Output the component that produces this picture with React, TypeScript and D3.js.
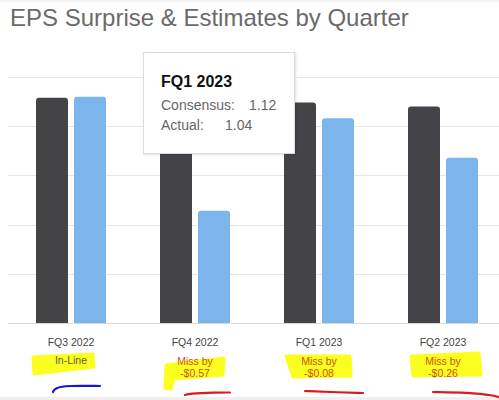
import React, { useRef, useEffect } from "react";
import * as d3 from "d3";

const quarters = ["FQ3 2022", "FQ4 2022", "FQ1 2023", "FQ2 2023"];
const consensus = [1.145, 1.14, 1.12, 1.1];
const actual = [1.15, 0.57, 1.04, 0.84];
const surpriseLines = [["In-Line"], ["Miss by", "-$0.57"], ["Miss by", "-$0.08"], ["Miss by", "-$0.26"]];
const surpriseKind = ["inline", "miss", "miss", "miss"];
const yTicks = [0, 0.25, 0.5, 0.75, 1, 1.25];
const series = ["Consensus", "Actual"];
const tooltipIndex = 2;

const W = 499;
const H = 400;
const FONT = "'Liberation Sans', Arial, Helvetica, sans-serif";

// hand-drawn highlighter blobs, relative to the category center
const highlightShapes: [number, number][][] = [
  [[-38, 357], [22, 354], [23, 367], [-37, 374]],
  [[-29, 365], [29, 358], [28, 375], [-21, 379], [-24, 389], [-30, 388]],
  [[-33, 356], [31, 356], [32, 376], [-26, 377]],
  [[-32, 356], [36, 353], [38, 375], [-30, 376]],
];
const scribbles: [number, number][][] = [
  [[-18, 392], [-16, 388], [-4, 385.5], [29, 386]],
  [[-10, 395], [-6, 393.5], [20, 392.5], [35, 392.5]],
  [[-14, 391], [10, 392], [44, 393]],
  [[-10, 392], [25, 392.5], [50, 395], [62, 399]],
];

function topRounded(x: number, y: number, w: number, h: number, r: number) {
  return `M${x},${y + h}V${y + r}Q${x},${y} ${x + r},${y}H${x + w - r}Q${x + w},${y} ${x + w},${y + r}V${y + h}Z`;
}

export default function App() {
  const svgRef = useRef<SVGSVGElement | null>(null);

  useEffect(() => {
    const svg = d3.select(svgRef.current);
    svg.selectAll("*").remove();

    const x = d3.scaleBand<string>().domain(quarters).range([9, 505]);
    const xs = d3.scaleBand<string>().domain(series).range([-35, 35]).paddingInner(6 / 38);
    const y = d3.scaleLinear().domain([0, 1.25]).range([323, 77]);
    const color = d3.scaleOrdinal<string, string>().domain(series).range(["#434348", "#7cb5ec"]);

    const defs = svg.append("defs");
    const f = defs.append("filter").attr("id", "shadow").attr("x", "-10%").attr("y", "-10%").attr("width", "130%").attr("height", "130%");
    f.append("feDropShadow").attr("dx", 1).attr("dy", 1).attr("stdDeviation", 1.2).attr("flood-color", "#000").attr("flood-opacity", 0.12);

    svg.append("rect").attr("width", W).attr("height", H).attr("fill", "#fff");
    svg.append("rect").attr("width", W).attr("height", 2).attr("fill", "#f2f2f2");
    svg.append("rect").attr("y", 397).attr("width", W).attr("height", 3).attr("fill", "#efefef");

    svg
      .append("text")
      .attr("x", 10)
      .attr("y", 26)
      .attr("font-family", FONT)
      .attr("font-size", 24)
      .attr("fill", "#6a6a6a")
      .text("EPS Surprise & Estimates by Quarter");

    svg
      .append("g")
      .selectAll("line")
      .data(yTicks)
      .enter()
      .append("line")
      .attr("x1", 8)
      .attr("x2", W)
      .attr("y1", (d) => Math.round(y(d)) + 0.5)
      .attr("y2", (d) => Math.round(y(d)) + 0.5)
      .attr("stroke", (d) => (d === 0 ? "#d8d8d8" : "#e6e6e6"))
      .attr("stroke-width", 1);

    const rows = quarters.map((q, i) => ({ q, vals: [consensus[i], actual[i]] }));
    const groups = svg
      .append("g")
      .selectAll("g")
      .data(rows)
      .enter()
      .append("g")
      .attr("transform", (d) => `translate(${x(d.q)! + x.bandwidth() / 2},0)`);

    groups
      .selectAll("path")
      .data((d) => d.vals.map((v, j) => ({ s: series[j], v })))
      .enter()
      .append("path")
      .attr("d", (d) => topRounded(xs(d.s)!, y(d.v), xs.bandwidth(), y(0) - y(d.v), 3))
      .attr("fill", (d) => color(d.s));

    const cx = (i: number) => x(quarters[i])! + x.bandwidth() / 2;

    svg
      .append("g")
      .selectAll("text")
      .data(quarters)
      .enter()
      .append("text")
      .attr("x", (d, i) => cx(i))
      .attr("y", 346)
      .attr("text-anchor", "middle")
      .attr("font-family", FONT)
      .attr("font-size", 10.5)
      .attr("fill", "#444")
      .text((d) => d);

    const blob = d3.line<[number, number]>().curve(d3.curveLinearClosed);
    const stroke = d3.line<[number, number]>().curve(d3.curveBasis);

    const ann = svg.append("g");
    highlightShapes.forEach((shape, i) => {
      ann
        .append("path")
        .attr("d", blob(shape.map(([dx, py]) => [cx(i) + dx, py] as [number, number])))
        .attr("fill", "#fbff1f")
        .attr("stroke", "#fbff1f")
        .attr("stroke-width", 3)
        .attr("stroke-linejoin", "round");
    });

    surpriseLines.forEach((lines, i) => {
      const t = ann
        .append("text")
        .attr("text-anchor", "middle")
        .attr("font-family", FONT)
        .attr("font-size", 10.5)
        .attr("fill", surpriseKind[i] === "miss" ? "#d2520a" : "#5e5d35");
      lines.forEach((l, k) => {
        t.append("tspan")
          .attr("x", cx(i))
          .attr("y", (surpriseKind[i] === "miss" ? 365 : 364) + k * 11.5)
          .text(l);
      });
    });

    scribbles.forEach((pts, i) => {
      ann
        .append("path")
        .attr("d", stroke(pts.map(([dx, py]) => [cx(i) + dx, py] as [number, number])))
        .attr("fill", "none")
        .attr("stroke", surpriseKind[i] === "miss" ? "#e3151f" : "#1515d6")
        .attr("stroke-width", 2.2)
        .attr("stroke-linecap", "round");
    });

    // tooltip for FQ1 2023
    const tip = svg.append("g").attr("transform", "translate(143.5,52.5)");
    tip
      .append("rect")
      .attr("width", 151)
      .attr("height", 101)
      .attr("fill", "#fff")
      .attr("stroke", "#dcdcdc")
      .attr("filter", "url(#shadow)");
    tip
      .append("text")
      .attr("x", 17.5)
      .attr("y", 34.5)
      .attr("font-family", FONT)
      .attr("font-size", 16)
      .attr("font-weight", "bold")
      .attr("fill", "#111")
      .text(quarters[tooltipIndex]);
    const tipRows = [
      { label: "Consensus:", v: consensus[tooltipIndex], vx: 105.5, y: 57.5 },
      { label: "Actual:", v: actual[tooltipIndex], vx: 81.5, y: 77.5 },
    ];
    tipRows.forEach((r) => {
      tip
        .append("text")
        .attr("x", 17.5)
        .attr("y", r.y)
        .attr("font-family", FONT)
        .attr("font-size", 14)
        .attr("fill", "#666")
        .text(r.label);
      tip
        .append("text")
        .attr("x", r.vx)
        .attr("y", r.y)
        .attr("font-family", FONT)
        .attr("font-size", 14)
        .attr("fill", "#666")
        .text(d3.format(".2f")(r.v));
    });
  }, []);

  return <svg ref={svgRef} width={W} height={H} style={{ position: "absolute", left: 0, top: 0 }}></svg>;
}
